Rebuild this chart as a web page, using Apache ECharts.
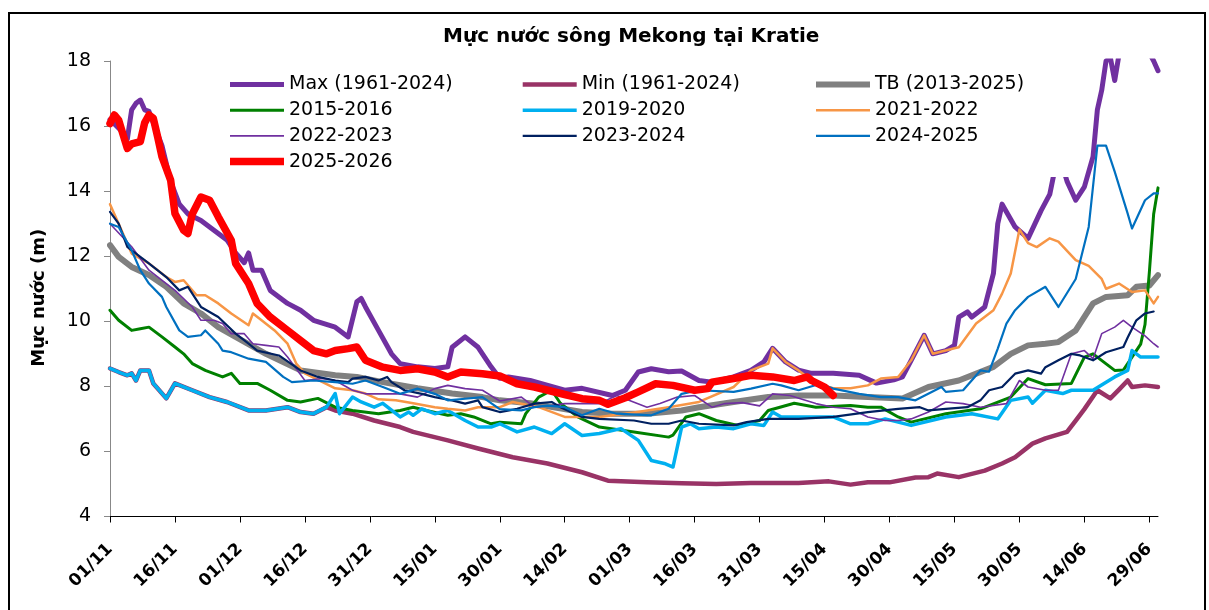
<!DOCTYPE html>
<html><head><meta charset="utf-8">
<script src="https://cdn.jsdelivr.net/npm/echarts@6/dist/echarts.min.js"></script>
<style>html,body{margin:0;padding:0;background:#fff}#c{width:1209px;height:610px}</style>
</head><body><div id="c"></div>
<script>
// ---- categories: daily dates 01/11 .. 01/07 (season 2025-2026) ----
const categories = [];
(function(){
  function pad(n){return (n<10?'0':'')+n;}
  for (let i=0;i<243;i++){const d=new Date(Date.UTC(2025,10,1+i));categories.push(pad(d.getUTCDate())+'/'+pad(d.getUTCMonth()+1));}
})();
const yTicks = [4,6,8,10,12,14,16,18];

// ---- series values: [day index since 01/11, water level (m)] ----
const maxData = [[0,16.2],[3,15.8],[4,15.6],[5,16.5],[6,16.7],[7,16.8],[8,16.5],[9,16.45],[12,15.4],[14,14.3],[16,13.6],[18,13.3],[21,13.1],[24,12.8],[27,12.5],[29,12.1],[31,11.8],[32,12.1],[33,11.57],[35,11.57],[37,10.95],[41,10.55],[44,10.34],[47,10.03],[52,9.82],[55,9.52],[57,10.6],[58,10.7],[59,10.44],[62,9.72],[65,9.0],[67,8.7],[71,8.6],[75,8.55],[78,8.6],[79,9.2],[82,9.52],[85,9.2],[88,8.6],[90,8.25],[92,8.29],[97,8.18],[105,7.88],[109,7.94],[116,7.72],[119,7.88],[122,8.44],[125,8.54],[129,8.45],[132,8.47],[136,8.18],[139,8.13],[144,8.29],[148,8.49],[151,8.75],[153,9.17],[156,8.75],[159,8.5],[162,8.4],[167,8.4],[173,8.34],[177,8.1],[181,8.2],[183,8.29],[185,8.8],[188,9.57],[190,9.0],[193,9.1],[195,9.26],[196,10.13],[198,10.29],[199,10.13],[202,10.44],[204,11.47],[205,13.0],[206,13.6],[209,12.9],[212,12.55],[215,13.4],[217,13.9],[219,15.2],[221,14.3],[223,13.72],[225,14.13],[227,15.06],[228,16.5],[229,17.1],[230,18.0],[231,18.1],[232,17.4],[233,18.2],[236,18.6],[239,18.5],[241,18.0],[242,17.7]];
const minData = [[0,8.55],[2,8.44],[4,8.34],[5,8.4],[6,8.18],[7,8.49],[9,8.49],[10,8.09],[13,7.63],[15,8.09],[19,7.88],[23,7.67],[27,7.52],[32,7.26],[36,7.26],[41,7.36],[44,7.21],[47,7.16],[50,7.36],[52,7.26],[56,7.16],[61,6.95],[67,6.75],[70,6.6],[78,6.34],[85,6.09],[93,5.82],[101,5.63],[109,5.36],[115,5.1],[124,5.05],[132,5.02],[140,5.0],[148,5.03],[159,5.03],[166,5.08],[171,4.98],[175,5.05],[180,5.05],[186,5.2],[189,5.21],[191,5.32],[196,5.21],[202,5.41],[206,5.63],[209,5.82],[213,6.24],[216,6.4],[221,6.6],[223,6.95],[225,7.3],[228,7.88],[231,7.63],[233,7.9],[235,8.18],[236,7.98],[239,8.03],[242,7.98]];
const tbData = [[0,12.34],[2,11.98],[5,11.67],[9,11.42],[13,11.06],[17,10.55],[21,10.24],[25,9.82],[29,9.52],[36,9.0],[44,8.49],[52,8.34],[57,8.29],[63,8.13],[71,7.94],[79,7.78],[86,7.67],[90,7.57],[97,7.48],[109,7.21],[116,7.16],[124,7.16],[132,7.26],[136,7.36],[144,7.52],[152,7.67],[159,7.72],[167,7.72],[175,7.67],[183,7.63],[189,7.98],[196,8.18],[204,8.6],[208,9.0],[212,9.26],[216,9.31],[219,9.36],[223,9.72],[227,10.55],[230,10.75],[235,10.8],[237,11.06],[240,11.1],[242,11.42]];
const y2015 = [[0,10.34],[2,10.03],[5,9.72],[7,9.77],[9,9.82],[12,9.52],[15,9.21],[17,9.0],[19,8.7],[22,8.49],[26,8.29],[28,8.4],[30,8.09],[34,8.09],[37,7.88],[41,7.57],[44,7.52],[48,7.63],[52,7.36],[56,7.26],[62,7.16],[67,7.26],[70,7.36],[73,7.26],[78,7.11],[81,7.16],[84,7.06],[88,6.85],[90,6.9],[95,6.85],[96,7.16],[99,7.67],[102,7.88],[104,7.48],[108,7.06],[113,6.75],[121,6.6],[129,6.44],[130,6.5],[133,7.06],[136,7.16],[140,6.95],[145,6.8],[150,6.95],[152,7.26],[158,7.48],[163,7.36],[171,7.41],[175,7.36],[178,7.36],[182,7.06],[185,6.9],[193,7.16],[201,7.31],[208,7.67],[212,8.24],[216,8.05],[222,8.09],[225,8.9],[227,9.0],[232,8.49],[234,8.5],[236,8.9],[238,9.3],[239,9.9],[240,11.5],[241,13.3],[242,14.1]];
const y2019 = [[0,8.55],[2,8.44],[4,8.34],[5,8.4],[6,8.18],[7,8.49],[9,8.49],[10,8.09],[13,7.63],[15,8.09],[19,7.88],[23,7.67],[27,7.52],[32,7.26],[36,7.26],[41,7.36],[44,7.21],[47,7.16],[50,7.36],[52,7.78],[53,7.16],[56,7.67],[58,7.52],[61,7.36],[63,7.48],[67,7.06],[69,7.21],[70,7.11],[72,7.31],[75,7.16],[78,7.26],[82,6.95],[85,6.75],[88,6.75],[90,6.85],[94,6.6],[98,6.75],[102,6.55],[105,6.85],[109,6.49],[113,6.55],[118,6.7],[122,6.34],[125,5.72],[128,5.63],[130,5.52],[132,6.75],[134,6.85],[136,6.7],[140,6.75],[144,6.7],[148,6.85],[151,6.8],[153,7.21],[155,7.06],[159,7.06],[167,7.06],[171,6.85],[175,6.85],[179,7.0],[185,6.8],[193,7.06],[199,7.16],[205,7.0],[208,7.57],[212,7.67],[213,7.48],[216,7.88],[220,7.78],[222,7.88],[227,7.88],[232,8.29],[235,8.49],[236,9.1],[238,8.9],[242,8.9]];
const y2021 = [[0,13.6],[2,13.0],[5,12.08],[9,11.78],[13,11.36],[15,11.21],[17,11.26],[20,10.8],[22,10.8],[25,10.55],[28,10.24],[32,9.88],[33,10.24],[35,10.03],[38,9.72],[41,9.31],[43,8.7],[45,8.4],[52,7.94],[56,7.88],[59,7.78],[62,7.6],[66,7.57],[70,7.48],[75,7.36],[78,7.31],[82,7.26],[85,7.36],[90,7.36],[93,7.52],[99,7.36],[105,7.06],[113,7.06],[121,7.2],[129,7.36],[136,7.52],[144,7.98],[148,8.49],[152,8.7],[153,9.17],[156,8.75],[159,8.49],[163,8.09],[167,7.94],[171,7.94],[175,8.03],[178,8.24],[182,8.29],[185,8.8],[188,9.57],[190,9.0],[195,9.17],[196,9.2],[200,9.93],[204,10.34],[206,10.85],[208,11.47],[210,12.82],[212,12.4],[214,12.28],[217,12.55],[219,12.45],[223,11.88],[226,11.7],[229,11.3],[230,11.0],[233,11.16],[236,10.9],[239,10.95],[241,10.55],[242,10.75]];
const y2022 = [[0,13.0],[5,12.29],[9,11.57],[15,10.95],[19,10.44],[21,10.03],[24,10.03],[26,9.93],[28,9.62],[31,9.62],[33,9.31],[36,9.26],[39,9.21],[41,8.9],[45,8.18],[49,8.24],[52,8.18],[56,7.88],[59,7.77],[64,7.77],[67,7.77],[71,7.67],[75,7.93],[78,8.03],[82,7.93],[86,7.88],[90,7.55],[95,7.67],[98,7.36],[102,7.41],[105,7.47],[113,7.47],[117,7.72],[124,7.36],[127,7.47],[131,7.67],[135,7.72],[139,7.36],[142,7.47],[146,7.5],[150,7.4],[153,7.77],[157,7.72],[163,7.47],[167,7.36],[171,7.31],[175,7.06],[179,6.95],[182,6.95],[185,7.0],[189,7.21],[193,7.52],[197,7.47],[201,7.36],[207,7.47],[210,8.18],[212,7.98],[216,7.88],[219,7.88],[222,9.0],[225,9.1],[227,8.85],[229,9.62],[232,9.82],[234,10.03],[236,9.82],[239,9.55],[241,9.31],[242,9.21]];
const y2023 = [[0,13.36],[2,13.0],[4,12.29],[5,12.18],[8,11.88],[10,11.67],[13,11.36],[16,10.95],[18,11.06],[21,10.44],[25,10.13],[29,9.62],[32,9.31],[34,9.1],[39,8.95],[44,8.49],[48,8.29],[52,8.18],[55,8.13],[56,8.24],[59,8.29],[62,8.18],[64,8.29],[65,8.13],[68,7.88],[72,7.77],[75,7.67],[79,7.57],[82,7.47],[85,7.57],[86,7.36],[90,7.21],[94,7.31],[98,7.47],[102,7.52],[104,7.36],[109,7.06],[113,7.0],[121,6.95],[125,6.85],[129,6.85],[132,6.95],[136,6.85],[144,6.8],[147,6.9],[152,7.0],[159,7.0],[167,7.06],[175,7.21],[182,7.31],[187,7.36],[189,7.26],[193,7.31],[198,7.36],[201,7.57],[203,7.88],[206,7.98],[209,8.39],[212,8.49],[215,8.39],[216,8.59],[219,8.8],[222,9.0],[224,8.95],[227,8.8],[230,9.05],[234,9.21],[235,9.5],[237,10.03],[239,10.24],[241,10.3]];
const y2024 = [[0,13.0],[2,12.9],[5,12.18],[7,11.57],[9,11.16],[12,10.75],[13,10.44],[16,9.72],[18,9.52],[21,9.57],[22,9.72],[25,9.31],[26,9.1],[28,9.05],[32,8.85],[36,8.75],[40,8.29],[42,8.13],[47,8.18],[52,8.13],[56,8.08],[59,8.18],[63,7.98],[67,7.77],[71,7.93],[75,7.77],[78,7.57],[82,7.62],[86,7.67],[90,7.3],[95,7.26],[98,7.36],[101,7.41],[105,7.36],[109,7.11],[113,7.31],[117,7.16],[125,7.11],[129,7.31],[132,7.77],[136,7.88],[144,7.83],[148,7.93],[153,8.08],[155,8.03],[159,7.88],[164,8.08],[167,7.93],[173,7.77],[178,7.67],[182,7.67],[186,7.57],[192,7.98],[193,7.83],[197,7.88],[201,8.49],[203,8.45],[205,9.16],[207,9.93],[209,10.34],[212,10.75],[216,11.06],[219,10.44],[223,11.3],[226,12.9],[228,15.4],[230,15.4],[232,14.6],[235,13.31],[236,12.85],[239,13.72],[241,13.93],[242,13.93]];
const y2025 = [[0,16.08],[1,16.34],[2,16.18],[4,15.31],[5,15.45],[7,15.52],[8,16.1],[9,16.34],[10,16.24],[11,15.67],[12,15.06],[14,14.34],[15,13.31],[17,12.8],[18,12.7],[19,13.3],[21,13.82],[23,13.72],[25,13.21],[28,12.49],[29,11.78],[32,11.16],[34,10.54],[37,10.13],[41,9.72],[44,9.41],[47,9.1],[50,9.0],[52,9.1],[55,9.16],[57,9.21],[59,8.8],[63,8.59],[67,8.49],[71,8.54],[75,8.44],[78,8.29],[81,8.44],[86,8.39],[90,8.32],[94,8.08],[98,7.98],[102,7.85],[105,7.75],[109,7.62],[113,7.57],[115,7.45],[119,7.65],[122,7.83],[126,8.08],[130,8.03],[135,7.88],[138,7.93],[139,8.13],[144,8.24],[148,8.34],[153,8.29],[158,8.18],[161,8.29],[162,8.18],[165,7.98],[167,7.72]];

const seriesNames = ['Max (1961-2024)','Min (1961-2024)','TB (2013-2025)','2015-2016','2019-2020','2021-2022','2022-2023','2023-2024','2024-2025','2025-2026'];
const seriesValues = [maxData,minData,tbData,y2015,y2019,y2021,y2022,y2023,y2024,y2025];

// styles
const seriesColors = ['#7030A0','#993366','#808080','#008000','#00B0F0','#F79646','#7030A0','#002060','#0070C0','#FF0000'];
const seriesWidths = [5,4.5,6,3,3.5,2.5,1.6,2.2,2.2,7.5];
const legendCols = [
  ['Max (1961-2024)','2015-2016','2022-2023','2025-2026'],
  ['Min (1961-2024)','2019-2020','2023-2024'],
  ['TB (2013-2025)','2021-2022','2024-2025']
];
const FONT = 'DejaVu Sans';

function iconPath(t){
  const a=(14-t)/2,b=(14+t)/2;
  return 'path://M0,0L0.01,0M54,14L53.99,14M0,'+a+'L54,'+a+'L54,'+b+'L0,'+b+'Z';
}
function legendFor(names, left, pad){
  return {
    orient:'vertical', left:left, top:69.5, padding:pad,
    itemWidth:54, itemHeight:14, itemGap:5.7,
    backgroundColor:'#fff', selectedMode:false,
    itemStyle:{borderWidth:0},
    textStyle:{fontFamily:FONT, fontSize:19, color:'#000', lineHeight:20},
    data: names.map(n=>({name:n, icon: iconPath(seriesWidths[seriesNames.indexOf(n)])}))
  };
}

const chart = echarts.init(document.getElementById('c'), null, {renderer:'canvas'});
chart.setOption({
  animation:false,
  backgroundColor:'#fff',
  title:{text:'Mực nước sông Mekong tại Kratie', left:438, top:22, padding:[5,5,5,5],
    textStyle:{fontFamily:FONT, fontWeight:'bold', fontSize:20, color:'#000'}},
  legend:[legendFor(legendCols[0],225,[5,5,5,5]), legendFor(legendCols[1],517.7,[5,5,5,5]), legendFor(legendCols[2],811,[5,45,31,5])],
  grid:{left:110, right:51, top:61, bottom:93.5, containLabel:false},
  xAxis:{type:'category', data:categories, boundaryGap:false,
    axisLine:{lineStyle:{color:'#000', width:1}},
    axisTick:{show:true, interval:14, length:6, lineStyle:{color:'#000'}},
    axisLabel:{interval:14, rotate:45, margin:30, fontFamily:FONT, fontWeight:'bold', fontSize:17, color:'#000'},
    splitLine:{show:false}},
  yAxis:{type:'value', min:yTicks[0], max:yTicks[yTicks.length-1], interval:2,
    name:'Mực nước (m)', nameLocation:'middle', nameGap:62, nameMoveOverlap:false,
    nameTextStyle:{fontFamily:FONT, fontWeight:'bold', fontSize:18, color:'#000', padding:[0,18,0,0]},
    axisLine:{show:true, lineStyle:{color:'#888', width:1}},
    axisTick:{show:true, length:6, lineStyle:{color:'#888'}},
    axisLabel:{margin:19, fontFamily:FONT, fontSize:19, color:'#000'},
    splitLine:{show:false}},
  graphic:[{type:'rect', silent:true, z:-10, shape:{x:9,y:13,width:1196,height:640}, style:{fill:'none', stroke:'#000', lineWidth:2}}],
  series: seriesNames.map((n,i)=>({
    name:n, type:'line', data:seriesValues[i], symbol:'none', showSymbol:false,
    color:seriesColors[i], itemStyle:{color:seriesColors[i]},
    lineStyle:{color:seriesColors[i], width:seriesWidths[i], cap:'round', join:'round'},
    emphasis:{disabled:true}, silent:true, z:2
  }))
});
</script></body></html>
